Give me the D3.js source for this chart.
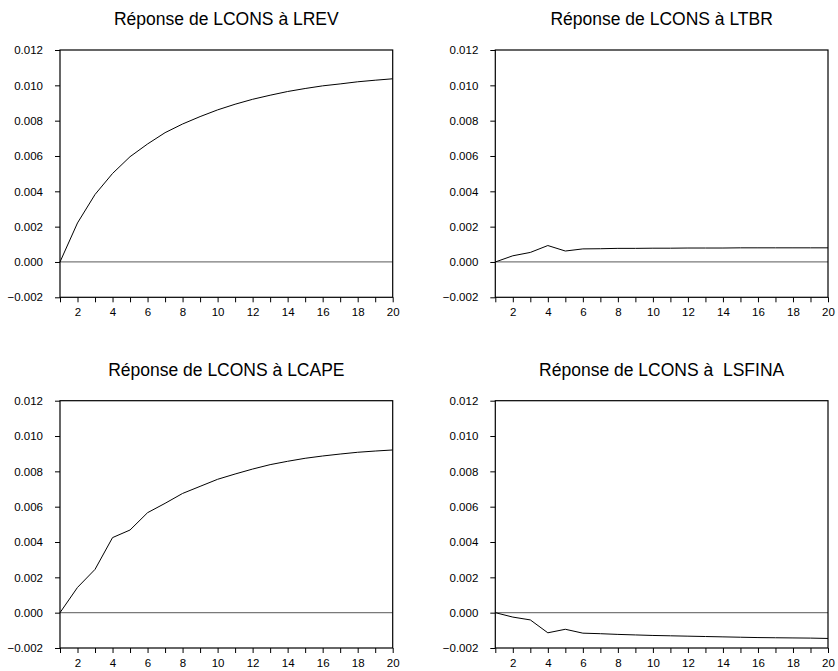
<!DOCTYPE html>
<html>
<head>
<meta charset="utf-8">
<script src="https://cdn.jsdelivr.net/npm/d3@7"></script>
<style>
  body { margin: 0; background: #fff; }
  svg text { font-family: "Liberation Sans", Arial, sans-serif; fill: #000; }
</style>
</head>
<body>
<svg id="chart" width="838" height="671"></svg>
<script>
// horizons 1..20
const periods = d3.range(1, 21);

const titles = [
  "Réponse de LCONS à LREV",
  "Réponse de LCONS à LTBR",
  "Réponse de LCONS à LCAPE",
  "Réponse de LCONS à  LSFINA"
];

const respLREV = [0, 0.00221, 0.00382, 0.00501, 0.00596, 0.00668, 0.00732, 0.00781, 0.00823, 0.00861,
  0.00893, 0.00921, 0.00944, 0.00965, 0.00982, 0.00997, 0.01008, 0.0102, 0.01029, 0.01037];

const respLTBR = [0, 0.00035, 0.00054, 0.00093, 0.00062, 0.00074, 0.00075, 0.00077, 0.00077, 0.00078,
  0.00078, 0.00079, 0.00079, 0.00079, 0.0008, 0.0008, 0.0008, 0.0008, 0.0008, 0.0008];

const respLCAPE = [0, 0.00143, 0.00245, 0.00425, 0.00468, 0.00566, 0.00619, 0.00675, 0.00715, 0.00755,
  0.00785, 0.00813, 0.00838, 0.00857, 0.00874, 0.00887, 0.00898, 0.00908, 0.00915, 0.00921];

const respLSFINA = [0, -0.00025, -0.00041, -0.00114, -0.00094, -0.00116, -0.00119, -0.00123, -0.00126, -0.00129,
  -0.00131, -0.00133, -0.00135, -0.00137, -0.00139, -0.00141, -0.00142, -0.00143, -0.00144, -0.00146];

const series = [respLREV, respLTBR, respLCAPE, respLSFINA];
const yTicks = [-0.002, 0.000, 0.002, 0.004, 0.006, 0.008, 0.010, 0.012];

const svg = d3.select("#chart");

const panelW = 332.7, panelH = 247.3;
const origins = [
  { x: 60, y: 50 },
  { x: 495.3, y: 50 },
  { x: 60, y: 400.7 },
  { x: 495.3, y: 400.7 }
];

const x = d3.scaleLinear().domain([1, 20]).range([0, panelW]);
const y = d3.scaleLinear().domain([-0.002, 0.012]).range([panelH, 0]);

const line = d3.line()
  .x((d, i) => x(periods[i]))
  .y(d => y(d));

series.forEach((vals, p) => {
  const g = svg.append("g")
    .attr("transform", `translate(${origins[p].x},${origins[p].y})`);

  // title
  g.append("text")
    .attr("x", panelW / 2)
    .attr("y", -25)
    .attr("text-anchor", "middle")
    .style("font-size", "17.5px")
    .style("white-space", "pre")
    .text(titles[p]);

  // zero line
  g.append("line")
    .attr("x1", 0).attr("x2", panelW)
    .attr("y1", y(0)).attr("y2", y(0))
    .attr("stroke", "#7a7a7a")
    .attr("stroke-width", 1.2);

  // response
  g.append("path")
    .datum(vals)
    .attr("fill", "none")
    .attr("stroke", "#000")
    .attr("stroke-width", 1)
    .attr("d", line);

  // frame
  g.append("rect")
    .attr("width", panelW).attr("height", panelH)
    .attr("fill", "none")
    .attr("stroke", "#000")
    .attr("stroke-width", 1.2);

  const yAxis = g.append("g")
    .call(d3.axisLeft(y).tickValues(yTicks).tickFormat(d3.format(".3f"))
      .tickSize(5).tickSizeOuter(0).tickPadding(12));
  yAxis.select(".domain").remove();
  yAxis.selectAll("text").style("font-size", "11.5px");
  yAxis.selectAll("line").attr("stroke", "#000");

  const xAxis = g.append("g")
    .attr("transform", `translate(0,${panelH})`)
    .call(d3.axisBottom(x).tickValues(periods)
      .tickFormat(d => d % 2 === 0 ? d : "")
      .tickSize(5).tickSizeOuter(0).tickPadding(6));
  xAxis.select(".domain").remove();
  xAxis.selectAll("text").style("font-size", "11.5px");
  xAxis.selectAll("line").attr("stroke", "#000");
});
</script>
</body>
</html>
